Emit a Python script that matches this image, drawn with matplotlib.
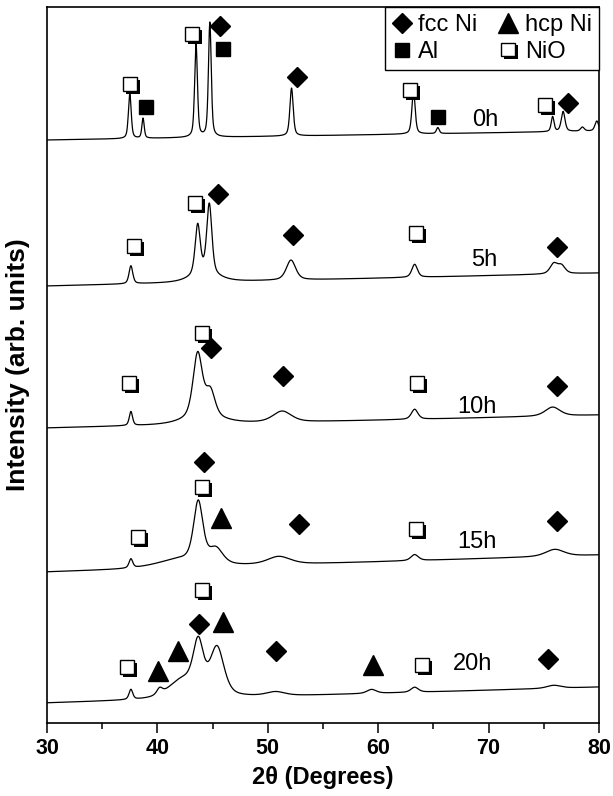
import numpy as np
import matplotlib.pyplot as plt
import matplotlib.patheffects as pe
from matplotlib.lines import Line2D
from matplotlib.ticker import MultipleLocator

plt.rcParams['font.family'] = ['Liberation Sans', 'DejaVu Sans']

# milling times, top to bottom
times = ["0h", "5h", "10h", "15h", "20h"]

# background level of each pattern at 30 and 80 degrees (arb. units, already stacked)
base_start = [583, 437, 295, 151, 20]
base_end = [592, 450, 308, 168, 36]

# reflections of each pattern: (2theta, height, FWHM)
peaks_0h = [(37.5, 45, 0.30), (38.7, 20, 0.25), (43.5, 93, 0.30), (44.75, 115, 0.30),
            (52.15, 48, 0.35), (63.2, 43, 0.35), (65.4, 6, 0.30), (75.8, 15, 0.30),
            (76.75, 20, 0.40), (78.5, 4, 0.40), (79.8, 10, 0.40)]
peaks_5h = [(37.6, 18, 0.40), (43.65, 50, 0.55), (44.7, 70, 0.55), (44.3, 8, 3.0),
            (52.1, 20, 1.0), (63.3, 13, 0.6), (75.9, 10, 0.8), (76.6, 8, 0.8)]
peaks_10h = [(37.6, 14, 0.35), (43.65, 64, 1.0), (44.8, 25, 1.0), (44.2, 7, 4.0),
             (51.3, 11, 2.0), (63.3, 10, 0.7), (75.8, 9, 1.6)]
peaks_15h = [(37.6, 9, 0.4), (43.7, 60, 1.0), (45.3, 15, 1.5), (42.0, 8, 5.0),
             (51.0, 8, 2.5), (63.3, 6, 0.8), (76.0, 7, 2.0)]
peaks_20h = [(37.6, 10, 0.4), (40.2, 6, 0.6), (42.3, 18, 3.0), (43.7, 48, 1.1),
             (45.4, 48, 1.5), (50.7, 4, 2.0), (59.4, 4, 1.0), (63.3, 5, 0.8), (75.9, 3, 1.5)]
peak_lists = [peaks_0h, peaks_5h, peaks_10h, peaks_15h, peaks_20h]

# phase marks placed above the reflections (2theta, height)
fcc_ni = [(45.67, 697), (52.64, 646), (77.19, 620), (45.49, 529), (52.28, 488), (76.20, 476),
          (44.86, 375), (51.38, 347), (76.20, 337), (44.22, 261), (52.83, 199), (76.20, 202),
          (43.77, 99), (50.74, 72), (75.38, 64)]
hcp_ni = [(45.76, 205), (40.05, 52), (41.87, 72), (45.94, 101), (59.53, 58)]
al = [(38.97, 616), (45.94, 674), (65.42, 606)]
nio = [(37.52, 639), (43.13, 689), (62.88, 633), (75.11, 618), (37.88, 477), (43.41, 520),
       (63.42, 490), (37.43, 340), (44.04, 390), (63.51, 340), (38.24, 186), (44.04, 236),
       (63.42, 194), (37.25, 56), (44.04, 133), (63.97, 58)]

# where the time labels sit
label_pos = [(69.67, 603), (69.58, 463), (68.95, 316), (68.95, 181), (68.59, 59)]

two_theta = np.linspace(30, 80, 2501)


def pattern(b0, b1, peaks):
    y = b0 + (b1 - b0) * (two_theta - 30) / 50
    for pos, h, w in peaks:
        d = (two_theta - pos) / w
        gauss = np.exp(-4 * np.log(2) * d ** 2)
        lorentz = 1 / (1 + 4 * d ** 2)
        y = y + h * (0.5 * gauss + 0.5 * lorentz)
    return y


fig = plt.figure(figsize=(6.13, 7.96), dpi=100)
ax = fig.add_axes([47 / 613, 73 / 796, 552 / 613, 716 / 796])

for b0, b1, pk in zip(base_start, base_end, peak_lists):
    ax.plot(two_theta, pattern(b0, b1, pk), color='k', lw=0.9)

# marker styles
fcc_style = dict(marker='D', ms=10, color='k', ls='none')
hcp_style = dict(marker='^', ms=14, color='k', ls='none')
al_style = dict(marker='s', ms=10.5, color='k', ls='none')
shadow = [pe.SimplePatchShadow(offset=(2.0, -2.0), shadow_rgbFace='k', alpha=1.0), pe.Normal()]
nio_style = dict(marker='s', ms=10, mfc='white', mec='k', mew=1.0, ls='none', path_effects=shadow)

ax.plot(*zip(*fcc_ni), **fcc_style)
ax.plot(*zip(*hcp_ni), **hcp_style)
ax.plot(*zip(*al), **al_style)
ax.plot(*zip(*nio), **nio_style)

for t, (x, y) in zip(times, label_pos):
    ax.text(x, y, t, fontsize=17, ha='center', va='center')

handles = [Line2D([], [], **fcc_style), Line2D([], [], **al_style),
           Line2D([], [], **hcp_style), Line2D([], [], **nio_style)]
leg = ax.legend(handles, ["fcc Ni", "Al", "hcp Ni", "NiO"], ncol=2, loc='upper right',
                fontsize=17, frameon=True, fancybox=False, framealpha=1,
                borderaxespad=0, handlelength=0.8, handletextpad=0.3,
                columnspacing=0.9, borderpad=0.3, labelspacing=0.2)
leg.get_frame().set_edgecolor('k')
leg.get_frame().set_linewidth(1.0)

ax.set_xlim(30, 80)
ax.set_ylim(0, 716)
ax.set_yticks([])
ax.xaxis.set_major_locator(MultipleLocator(10))
ax.xaxis.set_minor_locator(MultipleLocator(5))
ax.tick_params(axis='x', which='major', direction='out', length=7, width=1.1, labelsize=15.5, pad=4)
ax.tick_params(axis='x', which='minor', direction='out', length=4, width=1.1)
for lbl in ax.get_xticklabels():
    lbl.set_fontweight('bold')
for s in ax.spines.values():
    s.set_linewidth(1.2)

ax.set_xlabel("2θ (Degrees)", fontsize=17, fontweight='bold', labelpad=5)
ax.set_ylabel("Intensity (arb. units)", fontsize=19, fontweight='bold', va='center')
ax.yaxis.set_label_coords(-0.053, 0.5)

fig.savefig("out.png", dpi=100)
